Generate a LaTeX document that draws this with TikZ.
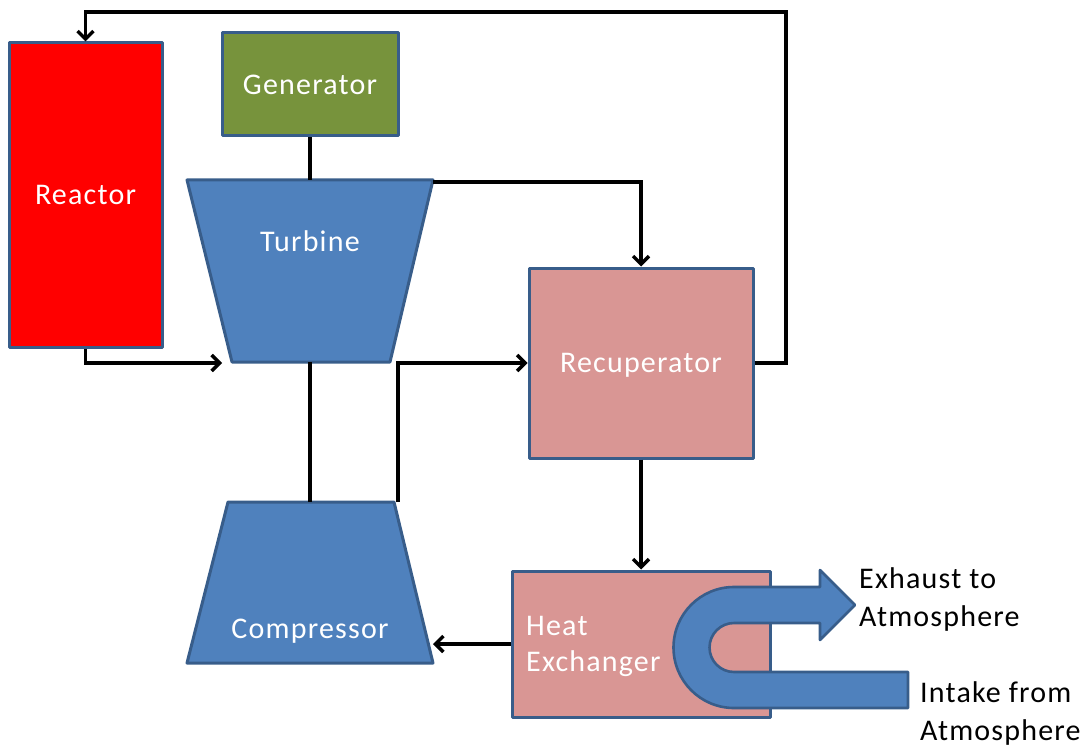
\documentclass[tikz,border=0pt]{standalone}
\usepackage{fontspec}
\setmainfont{Carlito}[LetterSpace=4]
\usetikzlibrary{arrows.meta}
\definecolor{bord}{HTML}{385D8A}
\definecolor{reac}{HTML}{FF0000}
\definecolor{gen}{HTML}{77933C}
\definecolor{blu}{HTML}{4F81BD}
\definecolor{pink}{HTML}{D99694}
\tikzset{
  box/.style={draw=bord, line width=3pt, inner sep=0pt, line join=round},
  lbl/.style={text=white, inner sep=0pt, font=\fontsize{30}{36}\selectfont},
  blk/.style={text=black, inner sep=0pt, align=left, font=\fontsize{30}{38}\selectfont},
  conn/.style={draw=black, line width=3.4pt, line join=miter},
  arr/.style={conn, -{Straight Barb[length=8pt,width=16pt,line width=3.4pt]}}
}
\begin{document}
\begin{tikzpicture}[x=1pt,y=-1pt]
\useasboundingbox (0,0) rectangle (1086,746);
% boxes
\node[box, fill=reac, minimum width=153pt, minimum height=304pt] (reactor) at (85.5,195) {};
\node[lbl] (reactorT) at (85.5,195) {Reactor};
\node[box, fill=gen, minimum width=176pt, minimum height=103pt] (generator) at (310,84.5) {};
\node[lbl] (generatorT) at (310,84.5) {Generator};
\node[box, fill=pink, minimum width=224pt, minimum height=190pt] (recup) at (641,363) {};
\node[lbl] (recupT) at (641,365) {Recuperator};
\node[box, fill=pink, minimum width=258pt, minimum height=146pt] (hx) at (641,644) {};
\node[lbl, align=left, anchor=west] (hxT) at (526,646) {Heat\\Exchanger};
% turbine
\draw[box, fill=blu] (187,180) -- (433,180) -- (390,362) -- (232,362) -- cycle;
\node[lbl] (turbine) at (310,241) {Turbine};
\coordinate (turbTop) at (310,180);
\coordinate (turbBot) at (310,362);
\coordinate (turbTR) at (433,182);
\coordinate (turbIn) at (222,363);
% compressor
\draw[box, fill=blu] (228,502) -- (394,502) -- (433,663) -- (187,663) -- cycle;
\node[lbl] (compressor) at (310,631) {Compressor};
\coordinate (compTop) at (310,502);
\coordinate (compOut) at (398,502);
\coordinate (compIn) at (433,644);
% U-shaped flow arrow
\draw[box, fill=blu, line width=2.6pt]
  (908,672) -- (734,672) arc[start angle=90, end angle=270, radius=24.5]
  -- (820,623) -- (820,640) -- (855,605) -- (820,570) -- (820,587)
  -- (734,587) arc[start angle=270, end angle=90, radius=60.5]
  -- (908,708) -- cycle;
\node[blk, anchor=base west] (exh) at (859,626) {Exhaust to\\Atmosphere};
\node[blk, anchor=base west] (intk) at (920,740) {Intake from\\Atmosphere};
% connectors
\draw[conn] (generator.south) -- (turbTop);
\draw[conn] (turbBot) -- (compTop);
\draw[arr] (reactor.south) |- (turbIn);
\draw[arr] (turbTR) -| (recup.north);
\draw[arr] (compOut) |- (recup.west);
\draw[arr] (recup.east) -- (786,363) -- (786,12) -| (reactor.north);
\draw[arr] (recup.south) -- (hx.north);
\draw[arr] (hx.west) -- (compIn);
\end{tikzpicture}
\end{document}
